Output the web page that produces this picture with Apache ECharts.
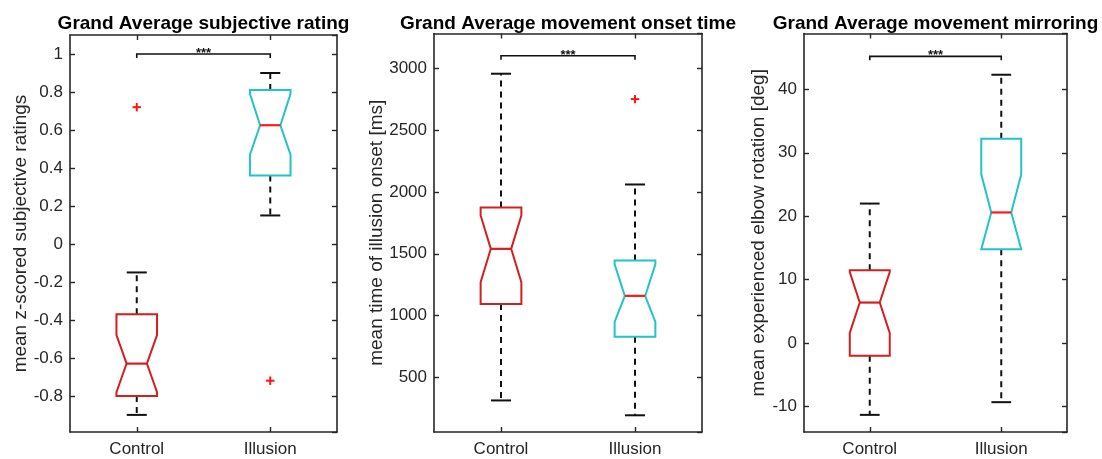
<!DOCTYPE html>
<html>
<head>
<meta charset="utf-8">
<script src="https://cdn.jsdelivr.net/npm/echarts@6/dist/echarts.min.js"></script>
<style>
  html, body { margin: 0; padding: 0; background: #fff; }
  #chart { width: 1102px; height: 459px; }
</style>
</head>
<body>
<div id="chart"></div>
<script>
// Groups shown in every panel
const categories = ['Control', 'Illusion'];

// Box statistics per group: [lowerWhisker, q1, notchLow, median, notchHigh, q3, upperWhisker]
const ratingBoxes = [
  [-0.90, -0.80, -0.78, -0.63, -0.48, -0.37, -0.15],
  [0.15, 0.36, 0.47, 0.625, 0.79, 0.81, 0.90]
];
const ratingOutliers = [[0, 0.72], [1, -0.72]];

const onsetBoxes = [
  [315, 1095, 1270, 1540, 1810, 1875, 2955],
  [195, 830, 950, 1160, 1415, 1445, 2060]
];
const onsetOutliers = [[1, 2750]];

const mirrorBoxes = [
  [-11.3, -2.0, 1.6, 6.4, 11.2, 11.5, 22.0],
  [-9.3, 14.8, 14.8, 20.6, 26.6, 32.2, 42.3]
];
const mirrorOutliers = [];

// Height of the significance bracket in each panel
const bracketLevels = [1.0, 3100, 45.2];
const significanceText = '***';

const panelTitles = [
  'Grand Average subjective rating',
  'Grand Average movement onset time',
  'Grand Average movement mirroring'
];
const yAxisNames = [
  'mean z-scored subjective ratings',
  'mean time of illusion onset [ms]',
  'mean experienced elbow rotation [deg]'
];
const yRanges = [[-0.99, 1.1], [60, 3280], [-14, 48.8]];
const ySplits = [10, 6, 6];

const FONT = '"Liberation Sans", Arial, Helvetica, sans-serif';
const AXIS_COLOR = '#262626';
const boxColors = ['#d21f1f', '#22c4c8'];
const medianColors = ['#d21f1f', '#ff1a1a'];
const OUTLIER_COLOR = '#ff1414';

const grids = [
  { left: 70, right: 765, top: 35, bottom: 27 },
  { left: 434, right: 400, top: 33.5, bottom: 27 },
  { left: 804, right: 35, top: 33.5, bottom: 27 }
];
const yNameGaps = [39.5, 47.5, 35.5];

const chart = echarts.init(document.getElementById('chart'), null, { renderer: 'canvas' });

const xAxes = [], yAxes = [], series = [], titles = [];

function boxRenderer(idx) {
  return function (params, api) {
    const cat = api.value(0);
    const band = api.size([1, 0])[0];
    const w = band * 0.152;
    const cw = band * 0.075;
    const vals = [];
    for (let i = 1; i <= 7; i++) vals.push(api.value(i));
    let [lw, q1, nlo, med, nhi, q3, uw] = vals;
    nlo = Math.max(nlo, q1);
    nhi = Math.min(nhi, q3);
    const cx = api.coord([cat, med])[0];
    const Y = v => api.coord([cat, v])[1];
    const color = boxColors[cat];
    const children = [];
    const dashStyle = { stroke: '#111', lineWidth: 2, lineDash: [6, 5], fill: null };
    // whiskers
    children.push({ type: 'line', shape: { x1: cx, y1: Y(q3), x2: cx, y2: Y(uw) }, style: dashStyle });
    children.push({ type: 'line', shape: { x1: cx, y1: Y(q1), x2: cx, y2: Y(lw) }, style: dashStyle });
    // caps
    const capStyle = { stroke: '#111', lineWidth: 2 };
    children.push({ type: 'line', shape: { x1: cx - cw, y1: Y(uw), x2: cx + cw, y2: Y(uw) }, style: capStyle });
    children.push({ type: 'line', shape: { x1: cx - cw, y1: Y(lw), x2: cx + cw, y2: Y(lw) }, style: capStyle });
    // notched box
    const pts = [
      [cx - w, Y(q1)], [cx - w, Y(nlo)], [cx - w / 2, Y(med)], [cx - w, Y(nhi)], [cx - w, Y(q3)],
      [cx + w, Y(q3)], [cx + w, Y(nhi)], [cx + w / 2, Y(med)], [cx + w, Y(nlo)], [cx + w, Y(q1)]
    ];
    children.push({ type: 'polygon', shape: { points: pts }, style: { fill: '#fff', stroke: color, lineWidth: 2 } });
    // median
    children.push({ type: 'line', shape: { x1: cx - w / 2, y1: Y(med), x2: cx + w / 2, y2: Y(med) },
      style: { stroke: medianColors[cat], lineWidth: 2.2 } });
    return { type: 'group', children };
  };
}

function outlierRenderer(params, api) {
  const p = api.coord([api.value(0), api.value(1)]);
  const r = 4.2;
  const st = { stroke: OUTLIER_COLOR, lineWidth: 2 };
  return { type: 'group', children: [
    { type: 'line', shape: { x1: p[0] - r, y1: p[1], x2: p[0] + r, y2: p[1] }, style: st },
    { type: 'line', shape: { x1: p[0], y1: p[1] - r, x2: p[0], y2: p[1] + r }, style: st }
  ] };
}

function bracketRenderer(params, api) {
  const y = api.value(2);
  const a = api.coord([api.value(0), y]);
  const b = api.coord([api.value(1), y]);
  const st = { stroke: '#111', lineWidth: 1.6 };
  return { type: 'group', children: [
    { type: 'polyline', shape: { points: [[a[0], a[1] + 4], [a[0], a[1]], [b[0], b[1]], [b[0], b[1] + 4]] }, style: Object.assign({ fill: null }, st) },
    { type: 'text', style: { x: (a[0] + b[0]) / 2, y: a[1] + 6, text: significanceText, fill: '#111',
      font: 'bold 13px ' + FONT, align: 'center', verticalAlign: 'bottom' } }
  ] };
}

const boxSets = [ratingBoxes, onsetBoxes, mirrorBoxes];
const outlierSets = [ratingOutliers, onsetOutliers, mirrorOutliers];

const tickFormatter = v => String(+Number(v).toFixed(6));

for (let k = 0; k < 3; k++) {
  const g = grids[k];
  const axisLine = { show: true, onZero: false, lineStyle: { color: AXIS_COLOR, width: 1.6 } };
  const tick = { show: true, inside: true, length: 5, lineStyle: { color: AXIS_COLOR, width: 1.4 } };
  xAxes.push({
    type: 'category', gridIndex: k, data: categories, position: 'bottom', boundaryGap: true,
    axisLine, axisTick: Object.assign({ alignWithLabel: true }, tick),
    axisLabel: { color: AXIS_COLOR, fontSize: 17, fontFamily: FONT, margin: 9 },
    splitLine: { show: false }
  });
  xAxes.push({
    type: 'category', gridIndex: k, data: categories, position: 'top', boundaryGap: true,
    axisLine, axisTick: Object.assign({ alignWithLabel: true }, tick),
    axisLabel: { show: false }, splitLine: { show: false }
  });
  const yBase = {
    type: 'value', gridIndex: k, min: yRanges[k][0], max: yRanges[k][1], splitNumber: ySplits[k],
    axisLine, axisTick: tick, splitLine: { show: false }
  };
  yAxes.push(Object.assign({}, yBase, {
    position: 'left',
    name: yAxisNames[k], nameLocation: 'middle', nameRotate: 90, nameGap: yNameGaps[k],
    nameMoveOverlap: false,
    nameTextStyle: { color: AXIS_COLOR, fontSize: 19, fontFamily: FONT },
    axisLabel: { color: AXIS_COLOR, fontSize: 17, fontFamily: FONT, margin: 7,
      showMinLabel: false, showMaxLabel: false, formatter: tickFormatter }
  }));
  yAxes.push(Object.assign({}, yBase, { position: 'right', axisLabel: { show: false } }));

  const xi = k * 2, yi = k * 2;
  series.push({
    type: 'custom', xAxisIndex: xi, yAxisIndex: yi, renderItem: boxRenderer(k), clip: false,
    data: boxSets[k].map((b, i) => [i].concat(b)), z: 2
  });
  series.push({
    type: 'custom', xAxisIndex: xi, yAxisIndex: yi, renderItem: outlierRenderer, clip: false,
    data: outlierSets[k], z: 3
  });
  series.push({
    type: 'custom', xAxisIndex: xi, yAxisIndex: yi, renderItem: bracketRenderer, clip: false,
    data: [[0, 1, bracketLevels[k]]], z: 3
  });

  const center = g.left + (1102 - g.left - g.right) / 2;
  titles.push({
    text: panelTitles[k], left: center - 5, top: 9, textAlign: 'center',
    textStyle: { fontSize: 19, fontWeight: 'bold', color: '#000', fontFamily: FONT }
  });
}

chart.setOption({
  animation: false,
  backgroundColor: '#fff',
  title: titles,
  grid: grids,
  xAxis: xAxes,
  yAxis: yAxes,
  series
});
</script>
</body>
</html>
